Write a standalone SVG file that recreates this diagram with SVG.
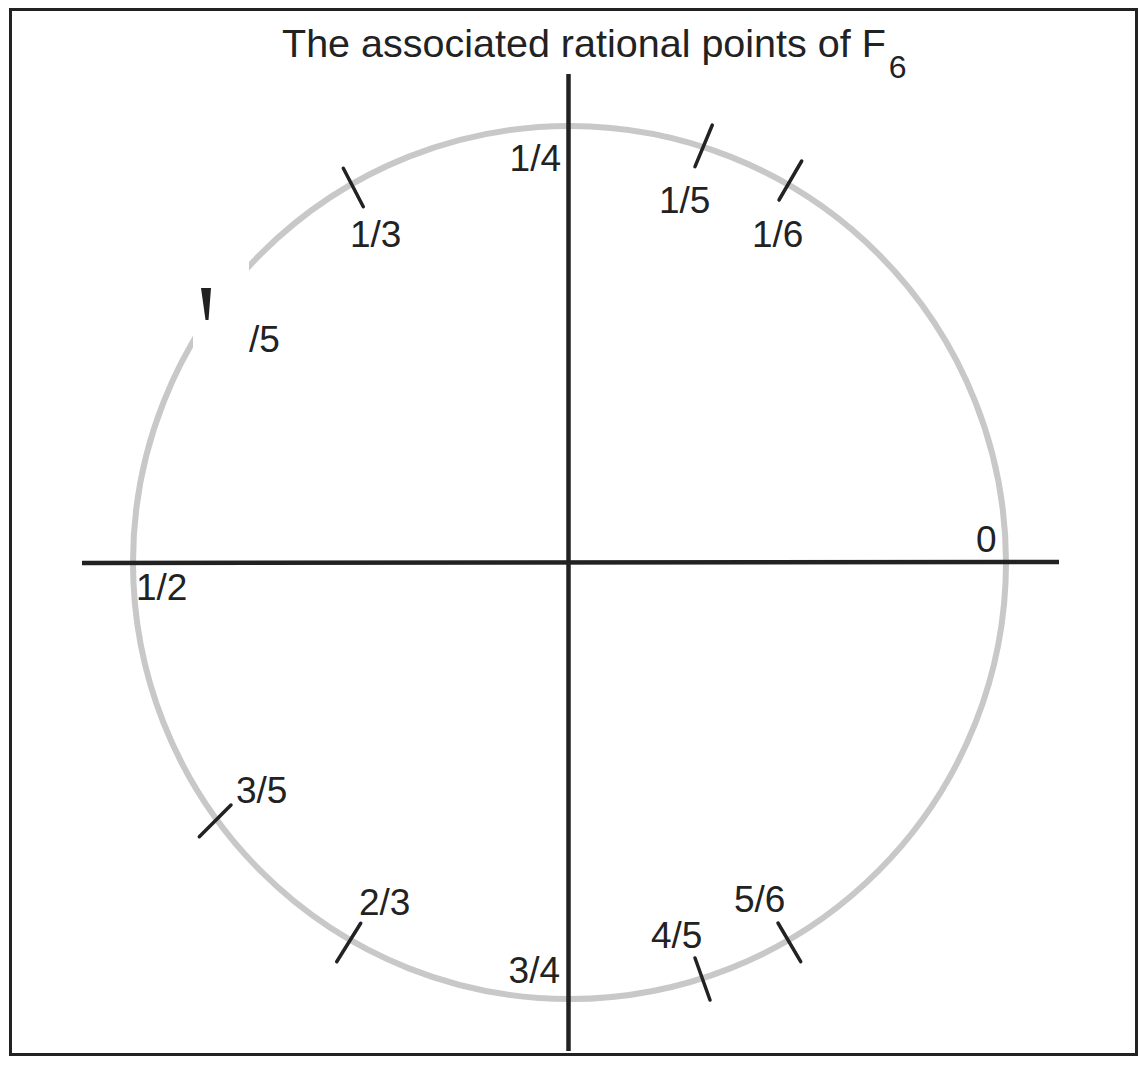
<svg xmlns="http://www.w3.org/2000/svg" width="1140" height="1067" viewBox="0 0 1140 1067">
<style>
.lbl{font-family:"Liberation Sans",Arial,sans-serif;font-size:37px;fill:#222}
.tick{stroke:#222;stroke-width:3.5;stroke-linecap:round}
.axis{stroke:#222;stroke-width:4.5}
</style>
<rect x="0" y="0" width="1140" height="1067" fill="#fff"/>
<rect id="frame" x="10.5" y="9.5" width="1126" height="1045" fill="none" stroke="#222" stroke-width="3"/>
<g id="title">
<text x="282" y="57" font-family="Liberation Sans, Arial, sans-serif" font-size="39.5" fill="#222">The associated rational points of F<tspan font-size="32" dx="3" dy="21">6</tspan></text>
</g>
<g id="circle"><circle cx="569.5" cy="562.5" r="436.5" fill="none" stroke="#c8c8c8" stroke-width="6"/></g>
<g id="connectors">
<line class="axis" x1="82" y1="563" x2="1059" y2="562"/>
<line class="axis" x1="568.5" y1="74" x2="568.5" y2="1051"/>
</g>
<rect x="193" y="259" width="56" height="100" fill="#fff"/>
<g id="ticks">
<line class="tick" x1="801.7" y1="161" x2="779" y2="200"/>
<line class="tick" x1="712.3" y1="125" x2="695" y2="166.7"/>
<line class="tick" x1="343.3" y1="168.3" x2="363.3" y2="206.7"/>
<polygon points="201,288 211,288 208.5,320 205.5,320" fill="#222"/>
<line class="tick" x1="231" y1="805" x2="199.3" y2="836.7"/>
<line class="tick" x1="360.7" y1="923.3" x2="336.7" y2="961.7"/>
<line class="tick" x1="695" y1="958" x2="710" y2="1000"/>
<line class="tick" x1="778" y1="923" x2="800.7" y2="961.7"/>
</g>
<g id="labels">
<text class="lbl" x="561" y="171" text-anchor="end">1/4</text>
<text class="lbl" x="659" y="213">1/5</text>
<text class="lbl" x="752" y="247">1/6</text>
<text class="lbl" x="350" y="247">1/3</text>
<text class="lbl" x="249" y="352">/5</text>
<text class="lbl" x="136" y="600">1/2</text>
<text class="lbl" x="976" y="552">0</text>
<text class="lbl" x="236" y="803">3/5</text>
<text class="lbl" x="359" y="915">2/3</text>
<text class="lbl" x="560" y="983" text-anchor="end">3/4</text>
<text class="lbl" x="651" y="948">4/5</text>
<text class="lbl" x="734" y="912">5/6</text>
</g>
</svg>
